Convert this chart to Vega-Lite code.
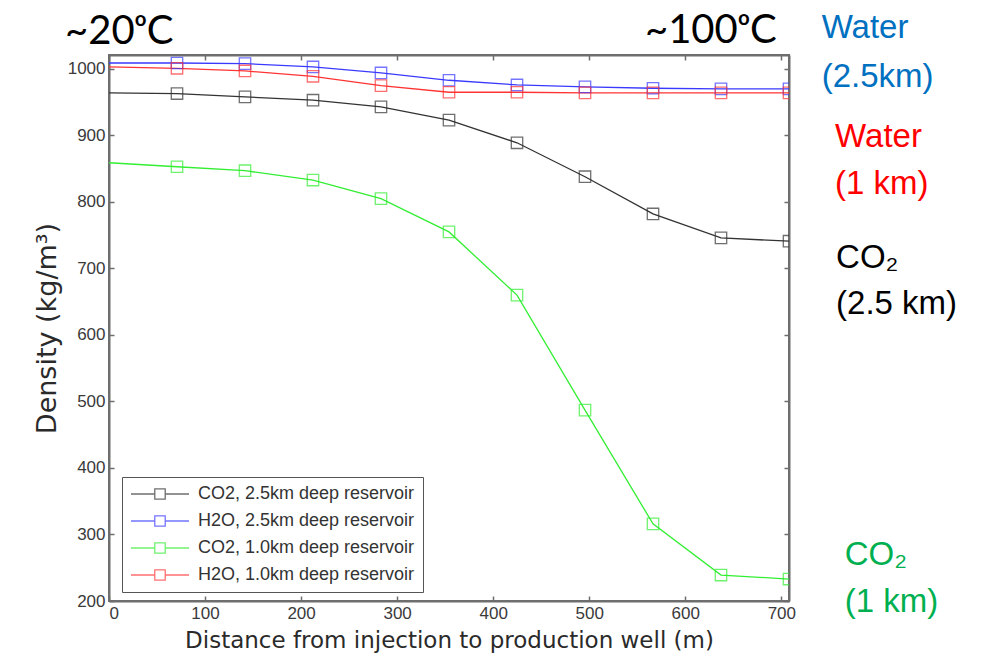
{
  "$schema": "https://vega.github.io/schema/vega-lite/v6.json",
  "width": 680,
  "height": 546,
  "autosize": "none",
  "padding": {"left": 109, "top": 55, "right": 197, "bottom": 61},
  "background": "white",
  "config": {
    "view": {"stroke": "#6e6e6e", "strokeWidth": 2},
    "axis": {
      "domainColor": "#6e6e6e", "domainWidth": 2, "tickColor": "#6e6e6e", "tickWidth": 1.5,
      "grid": false, "labelFont": "Liberation Sans", "labelFontSize": 17, "labelColor": "#3a3a3a",
      "titleFont": "DejaVu Sans", "titleFontSize": 23, "titleFontWeight": "normal", "titleColor": "#2a2a2a"
    }
  },
  "datasets": {
    "curves": [
      {"series": "CO2, 2.5km deep reservoir", "x": 0, "y": 964},
      {"series": "CO2, 2.5km deep reservoir", "x": 70.8, "y": 963},
      {"series": "CO2, 2.5km deep reservoir", "x": 141.6, "y": 958},
      {"series": "CO2, 2.5km deep reservoir", "x": 212.4, "y": 953},
      {"series": "CO2, 2.5km deep reservoir", "x": 283.2, "y": 943},
      {"series": "CO2, 2.5km deep reservoir", "x": 354, "y": 923},
      {"series": "CO2, 2.5km deep reservoir", "x": 424.8, "y": 889},
      {"series": "CO2, 2.5km deep reservoir", "x": 495.6, "y": 838},
      {"series": "CO2, 2.5km deep reservoir", "x": 566.4, "y": 782},
      {"series": "CO2, 2.5km deep reservoir", "x": 637.2, "y": 746},
      {"series": "CO2, 2.5km deep reservoir", "x": 708, "y": 741},
      {"series": "H2O, 2.5km deep reservoir", "x": 0, "y": 1009},
      {"series": "H2O, 2.5km deep reservoir", "x": 70.8, "y": 1009},
      {"series": "H2O, 2.5km deep reservoir", "x": 141.6, "y": 1008},
      {"series": "H2O, 2.5km deep reservoir", "x": 212.4, "y": 1003},
      {"series": "H2O, 2.5km deep reservoir", "x": 283.2, "y": 994},
      {"series": "H2O, 2.5km deep reservoir", "x": 354, "y": 983},
      {"series": "H2O, 2.5km deep reservoir", "x": 424.8, "y": 976},
      {"series": "H2O, 2.5km deep reservoir", "x": 495.6, "y": 973},
      {"series": "H2O, 2.5km deep reservoir", "x": 566.4, "y": 971},
      {"series": "H2O, 2.5km deep reservoir", "x": 637.2, "y": 970},
      {"series": "H2O, 2.5km deep reservoir", "x": 708, "y": 970},
      {"series": "CO2, 1.0km deep reservoir", "x": 0, "y": 859},
      {"series": "CO2, 1.0km deep reservoir", "x": 70.8, "y": 853},
      {"series": "CO2, 1.0km deep reservoir", "x": 141.6, "y": 847},
      {"series": "CO2, 1.0km deep reservoir", "x": 212.4, "y": 833},
      {"series": "CO2, 1.0km deep reservoir", "x": 283.2, "y": 805},
      {"series": "CO2, 1.0km deep reservoir", "x": 354, "y": 755},
      {"series": "CO2, 1.0km deep reservoir", "x": 424.8, "y": 660},
      {"series": "CO2, 1.0km deep reservoir", "x": 495.6, "y": 487},
      {"series": "CO2, 1.0km deep reservoir", "x": 566.4, "y": 316},
      {"series": "CO2, 1.0km deep reservoir", "x": 637.2, "y": 239},
      {"series": "CO2, 1.0km deep reservoir", "x": 708, "y": 233},
      {"series": "H2O, 1.0km deep reservoir", "x": 0, "y": 1003},
      {"series": "H2O, 1.0km deep reservoir", "x": 70.8, "y": 1001},
      {"series": "H2O, 1.0km deep reservoir", "x": 141.6, "y": 997},
      {"series": "H2O, 1.0km deep reservoir", "x": 212.4, "y": 989},
      {"series": "H2O, 1.0km deep reservoir", "x": 283.2, "y": 975},
      {"series": "H2O, 1.0km deep reservoir", "x": 354, "y": 965},
      {"series": "H2O, 1.0km deep reservoir", "x": 424.8, "y": 965},
      {"series": "H2O, 1.0km deep reservoir", "x": 495.6, "y": 964},
      {"series": "H2O, 1.0km deep reservoir", "x": 566.4, "y": 964},
      {"series": "H2O, 1.0km deep reservoir", "x": 637.2, "y": 964},
      {"series": "H2O, 1.0km deep reservoir", "x": 708, "y": 964}
    ]
  },
  "resolve": {"axis": {"x": "independent", "y": "independent"}},
  "layer": [
    {
      "data": {"name": "curves"},
      "mark": {"type": "line", "strokeWidth": 1.3, "clip": true},
      "encoding": {
        "x": {"field": "x", "type": "quantitative", "scale": {"domain": [0, 708], "nice": false},
              "axis": {"orient": "bottom", "values": [0,100,200,300,400,500,600,700], "tickSize": -5, "labelPadding": 9, "labelFontSize": 17, "title": "Distance from injection to production well (m)", "titlePadding": 8}},
        "y": {"field": "y", "type": "quantitative", "scale": {"domain": [200, 1021], "nice": false, "zero": false},
              "axis": {"orient": "left", "values": [200,300,400,500,600,700,800,900,1000], "format": "d", "tickSize": -5, "labelPadding": 9, "labelFontSize": 17, "title": "Density (kg/m³)", "titleFontSize": 27, "titlePadding": 6}},
        "color": {"field": "series", "type": "nominal",
          "scale": {"domain": ["CO2, 2.5km deep reservoir", "H2O, 2.5km deep reservoir", "CO2, 1.0km deep reservoir", "H2O, 1.0km deep reservoir"],
                    "range": ["#333333", "#3a3aff", "#33ee33", "#ff3333"]},
          "legend": {"title": null, "orient": "none", "legendX": 13, "legendY": 422,
            "symbolType": "M-1,0H-0.18M0.18,0H1M-0.18,-0.18H0.18V0.18H-0.18Z",
            "symbolSize": 3364, "symbolStrokeWidth": 1.3, "symbolFillColor": "transparent",
            "clipHeight": 18, "labelLimit": 400,
            "labelFont": "Liberation Sans", "labelFontSize": 18, "labelColor": "#333333", "labelOffset": 8,
            "rowPadding": 9, "padding": 8, "strokeColor": "#555555", "fillColor": "white", "zindex": 1}
        }
      }
    },
    {
      "data": {"name": "curves"},
      "transform": [{"filter": "datum.x > 0"}],
      "mark": {"type": "point", "shape": "square", "filled": false, "size": 130, "strokeWidth": 1.3, "clip": true},
      "encoding": {
        "x": {"field": "x", "type": "quantitative", "axis": null},
        "y": {"field": "y", "type": "quantitative", "axis": null},
        "color": {"field": "series", "type": "nominal"}
      }
    },
    {
      "data": {"name": "curves"},
      "mark": {"type": "point", "opacity": 0},
      "encoding": {
        "x": {"field": "x", "type": "quantitative",
              "axis": {"orient": "top", "values": [0,100,200,300,400,500,600,700], "tickSize": -5, "labels": false, "title": null}},
        "y": {"field": "y", "type": "quantitative",
              "axis": {"orient": "right", "values": [200,300,400,500,600,700,800,900,1000], "tickSize": -5, "labels": false, "title": null}}
      }
    },
    {
      "data": {"values": [{"x": -45.8, "y": 1038, "t": "~20ᵒC"}, {"x": 558, "y": 1039, "t": "~100ᵒC"}]},
      "mark": {"type": "text", "align": "left", "baseline": "alphabetic", "font": "Lato", "fontSize": 40, "color": "#000000"},
      "encoding": {"x": {"field": "x", "type": "quantitative", "axis": null}, "y": {"field": "y", "type": "quantitative", "axis": null}, "text": {"field": "t"}}
    },
    {
      "data": {"values": [{"x": 742, "y": 1046.6, "t": "Water"}, {"x": 742, "y": 973, "t": "(2.5km)"}]},
      "mark": {"type": "text", "align": "left", "baseline": "alphabetic", "font": "Liberation Sans", "fontSize": 33, "color": "#0070c0"},
      "encoding": {"x": {"field": "x", "type": "quantitative", "axis": null}, "y": {"field": "y", "type": "quantitative", "axis": null}, "text": {"field": "t"}}
    },
    {
      "data": {"values": [{"x": 756, "y": 882.7, "t": "Water"}, {"x": 756, "y": 812, "t": "(1 km)"}]},
      "mark": {"type": "text", "align": "left", "baseline": "alphabetic", "font": "Liberation Sans", "fontSize": 33, "color": "#ff0000"},
      "encoding": {"x": {"field": "x", "type": "quantitative", "axis": null}, "y": {"field": "y", "type": "quantitative", "axis": null}, "text": {"field": "t"}}
    },
    {
      "data": {"values": [{"x": 757, "y": 700.8, "t": "CO₂"}, {"x": 757, "y": 631, "t": "(2.5 km)"}]},
      "mark": {"type": "text", "align": "left", "baseline": "alphabetic", "font": "Liberation Sans", "fontSize": 33, "color": "#000000"},
      "encoding": {"x": {"field": "x", "type": "quantitative", "axis": null}, "y": {"field": "y", "type": "quantitative", "axis": null}, "text": {"field": "t"}}
    },
    {
      "data": {"values": [{"x": 766, "y": 254, "t": "CO₂"}, {"x": 766, "y": 184, "t": "(1 km)"}]},
      "mark": {"type": "text", "align": "left", "baseline": "alphabetic", "font": "Liberation Sans", "fontSize": 33, "color": "#00b050"},
      "encoding": {"x": {"field": "x", "type": "quantitative", "axis": null}, "y": {"field": "y", "type": "quantitative", "axis": null}, "text": {"field": "t"}}
    }
  ]
}
